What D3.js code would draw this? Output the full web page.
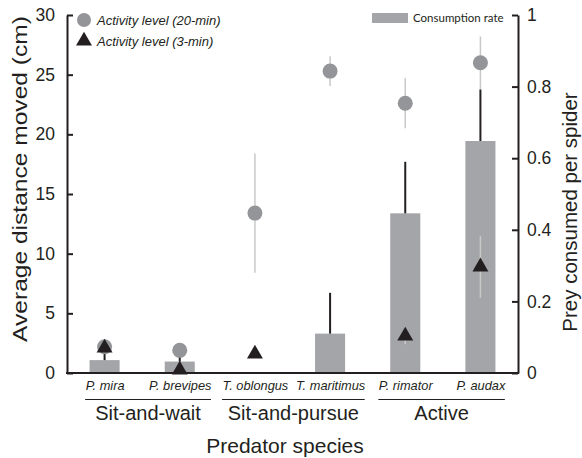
<!DOCTYPE html>
<html>
<head>
<meta charset="utf-8">
<script src="https://cdn.jsdelivr.net/npm/d3@7"></script>
<style>
  body { margin: 0; background: #fff; }
  svg { display: block; font-family: 'Liberation Sans', Arial, sans-serif; }
  .axis path, .axis line { stroke: #231f20; stroke-width: 2; }
  .axis text { font-size: 17.5px; fill: #231f20; }
</style>
</head>
<body>
<svg width="582" height="458"></svg>
<script>
// values
var species = ['P. mira', 'P. brevipes', 'T. oblongus', 'T. maritimus', 'P. rimator', 'P. audax'];
var groupNames = ['Sit-and-wait', 'Sit-and-pursue', 'Active'];
var groupOf = [0, 0, 1, 1, 2, 2];

var activity20 = [2.2, 1.9, 13.4, 25.3, 22.6, 26.0];
var activity20Err = [0.3, 0.3, 5.0, 1.25, 2.1, 2.2];
var activity3 = [2.1, 0.25, 1.6, null, 3.1, 8.9];
var activity3Err = [0.3, 0.2, 0.2, null, 0.7, 2.6];
var consumption = [0.036, 0.032, 0, 0.11, 0.446, 0.648];
var consumptionErr = [0.025, 0.025, 0, 0.114, 0.144, 0.144];

var leftTicks = [0, 5, 10, 15, 20, 25, 30];
var rightTicks = [0, 0.2, 0.4, 0.6, 0.8, 1];

var dark = '#231f20';
var barGray = '#a4a5a8';
var dotGray = '#939598';
var errGray = '#c8c8c8';

var svg = d3.select('svg');

var x = d3.scalePoint().domain(species).range([67, 518]).padding(0.5);
var yLeft = d3.scaleLinear().domain([0, 30]).range([373, 15]);
var yRight = d3.scaleLinear().domain([0, 1]).range([373, 15]);
var barWidth = x.step() * 0.4;

var rows = species.map(function(name, i) {
  return {
    name: name,
    a20: activity20[i], a20e: activity20Err[i],
    a3: activity3[i], a3e: activity3Err[i],
    c: consumption[i], ce: consumptionErr[i]
  };
});

// bars + upper error
svg.append('g').selectAll('rect').data(rows.filter(function(d) { return d.c > 0; }))
  .enter().append('rect')
  .attr('x', function(d) { return x(d.name) - barWidth / 2; })
  .attr('width', barWidth)
  .attr('y', function(d) { return yRight(d.c); })
  .attr('height', function(d) { return yRight(0) - yRight(d.c); })
  .attr('fill', barGray);

svg.append('g').selectAll('line').data(rows.filter(function(d) { return d.ce > 0; }))
  .enter().append('line')
  .attr('x1', function(d) { return x(d.name); })
  .attr('x2', function(d) { return x(d.name); })
  .attr('y1', function(d) { return yRight(d.c); })
  .attr('y2', function(d) { return yRight(d.c + d.ce); })
  .attr('stroke', dark).attr('stroke-width', 2);

// 20-min activity
svg.append('g').selectAll('line').data(rows)
  .enter().append('line')
  .attr('x1', function(d) { return x(d.name); })
  .attr('x2', function(d) { return x(d.name); })
  .attr('y1', function(d) { return yLeft(d.a20 - d.a20e); })
  .attr('y2', function(d) { return yLeft(d.a20 + d.a20e); })
  .attr('stroke', errGray).attr('stroke-width', 1.5);

svg.append('g').selectAll('circle').data(rows)
  .enter().append('circle')
  .attr('cx', function(d) { return x(d.name); })
  .attr('cy', function(d) { return yLeft(d.a20); })
  .attr('r', 7.5)
  .attr('fill', dotGray);

// 3-min activity
var withA3 = rows.filter(function(d) { return d.a3 != null; });
svg.append('g').selectAll('line').data(withA3)
  .enter().append('line')
  .attr('x1', function(d) { return x(d.name); })
  .attr('x2', function(d) { return x(d.name); })
  .attr('y1', function(d) { return yLeft(Math.max(0, d.a3 - d.a3e)); })
  .attr('y2', function(d) { return yLeft(d.a3 + d.a3e); })
  .attr('stroke', errGray).attr('stroke-width', 1.5);

var triangle = d3.symbol().type(d3.symbolTriangle).size(110);
svg.append('g').selectAll('path').data(withA3)
  .enter().append('path')
  .attr('d', triangle)
  .attr('transform', function(d) { return 'translate(' + x(d.name) + ',' + yLeft(d.a3) + ')'; })
  .attr('fill', dark);

// axes, ticks point inwards
svg.append('g').attr('class', 'axis')
  .attr('transform', 'translate(67,0)')
  .call(d3.axisLeft(yLeft).tickValues(leftTicks).tickSizeInner(-6).tickSizeOuter(0).tickPadding(12));

svg.append('g').attr('class', 'axis')
  .attr('transform', 'translate(518,0)')
  .call(d3.axisRight(yRight).tickValues(rightTicks).tickSizeInner(-6).tickSizeOuter(0).tickPadding(9)
    .tickFormat(d3.format('~g')));

var bottom = svg.append('g').attr('class', 'axis')
  .attr('transform', 'translate(0,373)')
  .call(d3.axisBottom(x).tickSize(0).tickPadding(8));
bottom.select('.domain').attr('d', 'M66,0H519');
bottom.selectAll('text').style('font-size', '12.8px').style('font-style', 'italic');

// group lines span the species labels below them
var labelBox = [];
bottom.selectAll('.tick text').each(function(d, i) {
  var w = this.getComputedTextLength();
  labelBox[i] = [x(d) - w / 2, x(d) + w / 2];
});

groupNames.forEach(function(name, g) {
  var idx = groupOf.map(function(v, i) { return v == g ? i : -1; }).filter(function(i) { return i >= 0; });
  var x0 = labelBox[idx[0]][0], x1 = labelBox[idx[idx.length - 1]][1];
  svg.append('line')
    .attr('x1', x0).attr('x2', x1).attr('y1', 399.5).attr('y2', 399.5)
    .attr('stroke', dark).attr('stroke-width', 1);
  svg.append('text')
    .attr('x', (x0 + x1) / 2).attr('y', 420)
    .attr('text-anchor', 'middle')
    .style('font-size', '20px').attr('fill', dark)
    .text(name);
});

svg.append('text')
  .attr('x', 285).attr('y', 453)
  .attr('text-anchor', 'middle')
  .style('font-size', '21px').attr('fill', dark)
  .text('Predator species');

// the left title is drawn a bit stretched along its length in the figure
svg.append('text')
  .attr('transform', 'translate(27,179) rotate(-90) scale(1.17,1)')
  .attr('text-anchor', 'middle')
  .style('font-size', '21px').attr('fill', dark)
  .text('Average distance moved (cm)');

svg.append('text')
  .attr('transform', 'translate(577,212) rotate(-90)')
  .attr('text-anchor', 'middle')
  .style('font-size', '20.5px').attr('fill', dark)
  .text('Prey consumed per spider');

// legend
var legend = svg.append('g');
legend.append('circle').attr('cx', 84).attr('cy', 20).attr('r', 7).attr('fill', dotGray);
legend.append('path').attr('d', triangle).attr('transform', 'translate(84,41)').attr('fill', dark);
legend.selectAll('text.act').data(['Activity level (20-min)', 'Activity level (3-min)'])
  .enter().append('text')
  .attr('x', 97).attr('y', function(d, i) { return 24.5 + i * 21; })
  .style('font-size', '13px').style('font-style', 'italic').attr('fill', dark)
  .text(function(d) { return d; });

legend.append('rect').attr('x', 372).attr('y', 13).attr('width', 36).attr('height', 10).attr('fill', barGray);
legend.append('text')
  .attr('x', 413).attr('y', 22)
  .style('font-family', 'Lato, sans-serif').style('font-size', '11.5px').attr('fill', dark)
  .text('Consumption rate');
</script>
</body>
</html>
